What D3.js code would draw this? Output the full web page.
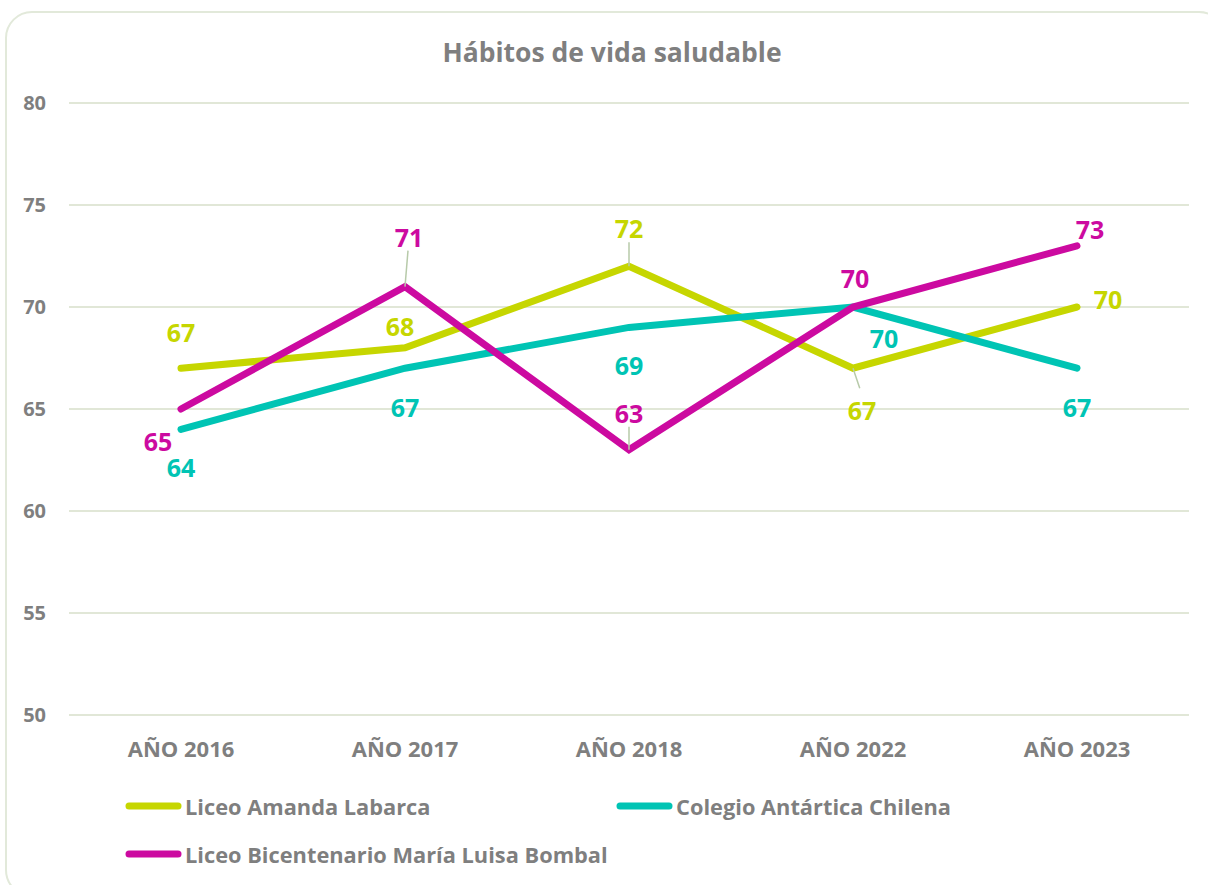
<!DOCTYPE html>
<html>
<head>
<meta charset="utf-8">
<script src="https://cdn.jsdelivr.net/npm/d3@7"></script>
<style>
  html, body { margin: 0; padding: 0; background: #fff; }
  svg { display: block; font-family: "Open Sans", Lato, sans-serif; }
</style>
</head>
<body>
<svg id="chart" width="1208" height="885"></svg>
<script>
// Chart data
const years = ["AÑO 2016", "AÑO 2017", "AÑO 2018", "AÑO 2022", "AÑO 2023"];
const seriesNames = ["Liceo Amanda Labarca", "Colegio Antártica Chilena", "Liceo Bicentenario María Luisa Bombal"];
const amandaLabarca = [67, 68, 72, 67, 70];
const antarticaChilena = [64, 67, 69, 70, 67];
const mariaLuisaBombal = [65, 71, 63, 70, 73];
const yTicks = [50, 55, 60, 65, 70, 75, 80];

const colors = ["#c6d600", "#00c4b4", "#cc0aa0"];
const seriesValues = [amandaLabarca, antarticaChilena, mariaLuisaBombal];

// Label placement (dx, dy from the point, and whether a leader line is drawn)
const labelPlacement = [
  [[0, -36], [-5, -22], [0, -38, true], [9, 42, true], [31, -8]],
  [[0, 38], [0, 39], [0, 38], [31, 31], [0, 39]],
  [[-23, 32], [4, -50, true], [0, -37, true], [2, -29], [13, -17]]
];

const svg = d3.select("#chart");
const textColor = "#7f7f7f";
const font = "'Open Sans', Lato, sans-serif";

// Outer frame
svg.append("rect")
  .attr("x", 6).attr("y", 12)
  .attr("width", 1219).attr("height", 884)
  .attr("rx", 26).attr("ry", 26)
  .attr("fill", "#fff")
  .attr("stroke", "#e2e9da").attr("stroke-width", 2);

const plot = { left: 69, right: 1189, top: 103, bottom: 715 };

const x = d3.scaleBand().domain(years).range([plot.left, plot.right]);
const y = d3.scaleLinear().domain([50, 80]).range([plot.bottom, plot.top]);
const cx = d => x(d) + x.bandwidth() / 2;

// Title
svg.append("text")
  .attr("x", 612).attr("y", 62)
  .attr("text-anchor", "middle")
  .attr("font-size", 26.5).attr("font-weight", 700)
  .attr("fill", textColor)
  .text("Hábitos de vida saludable");

// Horizontal gridlines
svg.append("g")
  .selectAll("line")
  .data(yTicks)
  .join("line")
  .attr("x1", plot.left).attr("x2", plot.right)
  .attr("y1", d => y(d)).attr("y2", d => y(d))
  .attr("stroke", "#e1e7d7").attr("stroke-width", 2);

// Y axis
const yAxis = svg.append("g")
  .attr("transform", `translate(${plot.left},0)`)
  .call(d3.axisLeft(y).tickValues(yTicks).tickSize(0).tickPadding(23));
yAxis.select(".domain").remove();
yAxis.selectAll("text")
  .attr("font-family", font)
  .attr("font-size", 20).attr("font-weight", 700)
  .attr("fill", textColor);

// X axis
const xAxis = svg.append("g")
  .attr("transform", `translate(0,${plot.bottom})`)
  .call(d3.axisBottom(x).tickSize(0).tickPadding(26));
xAxis.select(".domain").remove();
xAxis.selectAll("text")
  .attr("font-family", font)
  .attr("font-size", 22).attr("font-weight", 700)
  .attr("fill", textColor);

// Lines
const line = d3.line()
  .x((d, i) => cx(years[i]))
  .y(d => y(d));

svg.append("g")
  .selectAll("path")
  .data(seriesValues)
  .join("path")
  .attr("d", d => line(d))
  .attr("fill", "none")
  .attr("stroke", (d, i) => colors[i])
  .attr("stroke-width", 7)
  .attr("stroke-linecap", "round")
  .attr("stroke-linejoin", "miter");

// Data labels with optional leader lines
const labels = svg.append("g");
seriesValues.forEach((vals, s) => {
  vals.forEach((v, i) => {
    const px = cx(years[i]), py = y(v);
    const [dx, dy, leader] = labelPlacement[s][i];
    if (leader) {
      const up = dy < 0;
      labels.append("line")
        .attr("x1", px).attr("y1", py)
        .attr("x2", px + dx * 0.75)
        .attr("y2", up ? py + dy + 14 : py + dy - 22)
        .attr("stroke", "#b7caa9").attr("stroke-width", 1.5);
    }
    labels.append("text")
      .attr("x", px + dx).attr("y", py + dy)
      .attr("text-anchor", "middle")
      .attr("dominant-baseline", "central")
      .attr("font-size", 25).attr("font-weight", 700)
      .attr("fill", colors[s])
      .text(v);
  });
});

// Legend
const legendItems = [
  { x: 126, y: 806 },
  { x: 617, y: 806 },
  { x: 126, y: 854 }
];
const legend = svg.append("g");
seriesNames.forEach((name, i) => {
  const p = legendItems[i];
  legend.append("line")
    .attr("x1", p.x + 3).attr("x2", p.x + 52)
    .attr("y1", p.y).attr("y2", p.y)
    .attr("stroke", colors[i]).attr("stroke-width", 7)
    .attr("stroke-linecap", "round");
  legend.append("text")
    .attr("x", p.x + 59).attr("y", p.y)
    .attr("dominant-baseline", "central")
    .attr("font-size", 21.8).attr("font-weight", 700)
    .attr("fill", textColor)
    .text(name);
});
</script>
</body>
</html>
